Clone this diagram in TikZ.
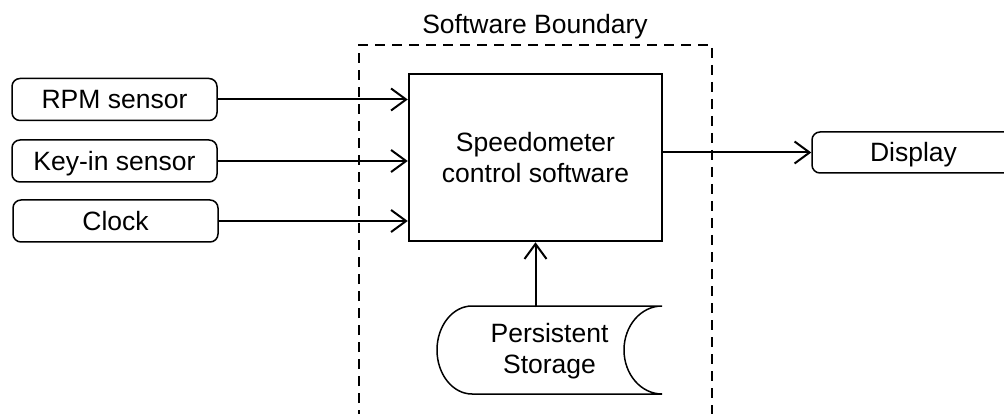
\documentclass[tikz,border=0pt]{standalone}
\usepackage{fontspec}
\setmainfont{Liberation Sans}
\usetikzlibrary{arrows.meta}
\begin{document}
\begin{tikzpicture}[x=1pt,y=-1pt,
  every node/.style={font=\fontsize{26.5}{31}\selectfont},
  ext/.style={draw, line width=1.5pt, rounded corners=8pt, minimum width=205pt, minimum height=42pt, inner sep=0pt, text height=19pt, text depth=0pt},
  sw/.style={draw, line width=2.5pt, minimum width=253pt, minimum height=167pt, align=center, inner sep=0pt},
  flow/.style={line width=2pt, -{Straight Barb[length=15pt,width=22pt,line width=2pt]}},
  bound/.style={line width=2pt, dash pattern=on 10pt off 7pt}
]
\useasboundingbox (0,0) rectangle (1004,414);
\fill[white] (0,0) rectangle (1004,414);
\clip (0,0) rectangle (1004,414);

% boundary
\coordinate (bl) at (359,420);
\coordinate (tl) at (359,45);
\coordinate (tr) at (712,45);
\coordinate (br) at (712,420);
\draw[bound] (bl) -- (tl) -- (tr) -- (br);
\node (lbl) at (535,27) {Software Boundary};

% nodes
\node[ext] (rpm) at (114.5,99.5) {RPM sensor};
\node[ext] (key) at (114.5,161) {Key-in sensor};
\node[ext] (clk) at (115.5,221) {Clock};
\node[sw] (main) at (535.5,157.5) {Speedometer\\control software};
\node[ext, minimum width=203pt, minimum height=41pt] (disp) at (913.5,152.5) {Display};

% storage shape
\node[minimum width=225pt, minimum height=88pt, align=center, inner sep=0pt] (store) at (549.5,351.5) {Persistent\\Storage};
\draw[line width=1.5pt]
  (662,306) .. controls (641,306) and (624,325.7) .. (624,350)
            .. controls (624,374.3) and (641,394) .. (662,394)
  -- (472,394) .. controls (452.7,394) and (437,374.3) .. (437,350)
            .. controls (437,325.7) and (452.7,306) .. (472,306) -- cycle;

% connectors
\draw[flow] (rpm.east) -- (rpm.east -| main.west);
\draw[flow] (key.east) -- (key.east -| main.west);
\draw[flow] (clk.east) -- (clk.east -| main.west);
\draw[flow] (main.east |- disp.west) -- (disp.west);
\draw[flow] (main.south |- store.north) -- (main.south);
\end{tikzpicture}
\end{document}
